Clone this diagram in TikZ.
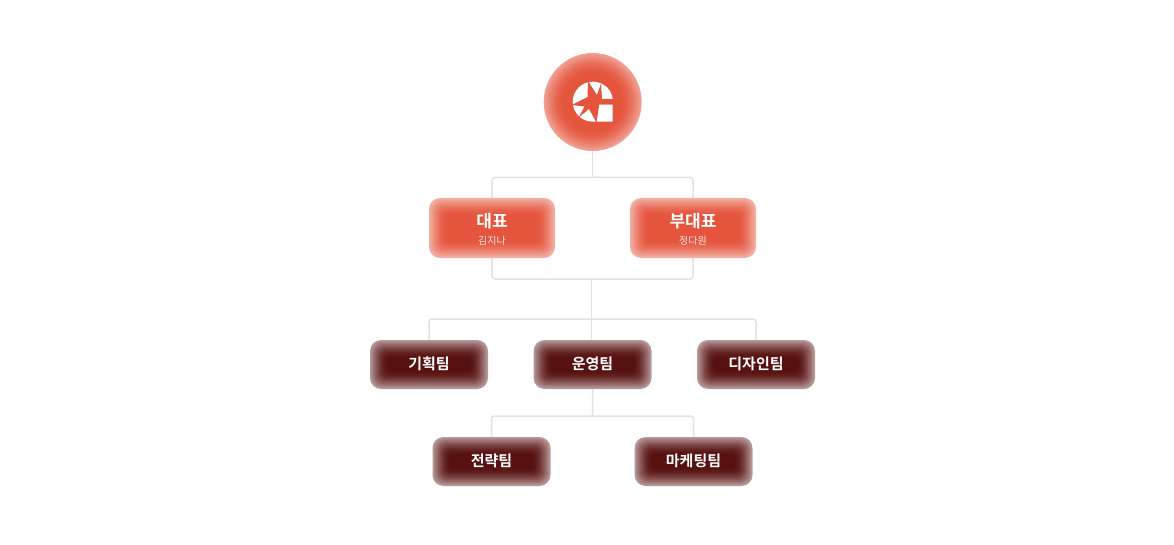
\documentclass[tikz,border=0pt]{standalone}
\usepackage{fontspec}
\newfontfamily\kr{Noto Sans CJK KR}
\newfontfamily\krb{Noto Sans CJK KR Bold}
\definecolor{conn}{HTML}{E2E2E2}
\definecolor{redcore}{HTML}{E5553D}
\definecolor{darkcore}{HTML}{561110}
\tikzset{
  x=1pt,y=-1pt,
  conn/.style={draw=conn,line width=1.5pt,rounded corners=3pt},
  boxtext/.style={text=white,inner sep=0pt,align=center},
}
% glowbox: name, cx, cy, w, h, core colour, glow size, edge strength
\newcommand{\glowbox}[8]{%
  \foreach \i in {0,...,24}{%
    \pgfmathsetmacro{\t}{\i/24}%
    \pgfmathsetmacro{\ins}{\t*#7}%
    \pgfmathsetmacro{\mix}{100*(#8+(1-#8)*sin(90*\t))}%
    \pgfmathsetmacro{\rad}{max(11-\ins*0.4,3)}%
    \fill[#6!\mix!white,rounded corners=\rad pt]
      (#2-#4/2+\ins,#3-#5/2+\ins) rectangle (#2+#4/2-\ins,#3+#5/2-\ins);
  }%
  \node[inner sep=0pt,minimum width=#4 pt,minimum height=#5 pt] (#1) at (#2,#3) {};
}
\begin{document}
\begin{tikzpicture}
\useasboundingbox (0,0) rectangle (1174,545);
\fill[white] (0,0) rectangle (1174,545);
\coordinate (t1) at (592.7,177.5);
\coordinate (j1) at (591.5,279);
\coordinate (j2) at (591.5,319);
\coordinate (j3) at (592.7,416);
\foreach \i in {0,...,24}{
  \pgfmathsetmacro{\t}{\i/24}
  \pgfmathsetmacro{\mix}{100*(0.55+0.45*sin(90*\t))}
  \fill[redcore!\mix!white] (592.7,102) circle ({49-\t*22});
}
\node[circle,inner sep=0pt,minimum size=98pt] (top) at (592.7,102) {};
\glowbox{ceo}{492}{228}{126}{60}{redcore}{19}{0.45}
\glowbox{vp}{693}{228}{126}{60}{redcore}{19}{0.45}
\glowbox{plan}{429}{364.5}{118}{49}{darkcore}{19}{0.42}
\glowbox{ops}{592.5}{364.5}{118}{49}{darkcore}{19}{0.42}
\glowbox{design}{756}{364.5}{118}{49}{darkcore}{19}{0.42}
\glowbox{strat}{491.5}{461.5}{118}{49}{darkcore}{19}{0.42}
\glowbox{mkt}{693.5}{461.5}{118}{49}{darkcore}{19}{0.42}
\draw[conn] (top.south) -- (t1);
\draw[conn] (ceo.north) |- (t1) -| (vp.north);
\draw[conn] (ceo.south) |- (j1) -| (vp.south);
\draw[conn] (j1) -- (j2);
\draw[conn] (plan.north) |- (j2) -| (design.north);
\draw[conn] (j2) -- (j2 |- ops.north);
\draw[conn] (ops.south) -- (j3);
\draw[conn] (strat.north) |- (j3) -| (mkt.north);
% logo
\fill[white] (612.7,98.8)
  .. controls (611.5,89) and (603,81.7) .. (592.7,81.7)
  .. controls (581.7,81.7) and (572.7,90.7) .. (572.7,101.7)
  .. controls (572.7,112.7) and (581.7,121.7) .. (592.7,121.7)
  -- (612.7,121.7) -- (612.7,104.3) -- (598,104.3) -- (598,98.8) -- cycle;
\fill[redcore] (588,81) -- (597,95) -- (601,83.5) -- (602,98.8) -- (615,98.8) -- (615,104.3)
  -- (599.3,104.3) -- (596.5,122.5) -- (589,109) -- (579,117) -- (584.5,106.5) -- (571.5,105)
  -- (587.5,97) -- cycle;
\node[boxtext,font=\krb\fontsize{17}{19}\selectfont] at (492,221.5) {대표};
\node[boxtext,font=\kr\fontsize{10}{12}\selectfont,text=white!85!redcore] at (492,240.5) {김지나};
\node[boxtext,font=\krb\fontsize{17}{19}\selectfont] at (693,221.5) {부대표};
\node[boxtext,font=\kr\fontsize{10}{12}\selectfont,text=white!85!redcore] at (693,240.5) {정다원};
\foreach \x/\y/\s in {429/364/기획팀,592.5/364/운영팀,756/364/디자인팀,491.5/461/전략팀,693.5/461/마케팅팀}
  \node[boxtext,font=\krb\fontsize{15}{17}\selectfont] at (\x,\y) {\s};
\end{tikzpicture}
\end{document}
